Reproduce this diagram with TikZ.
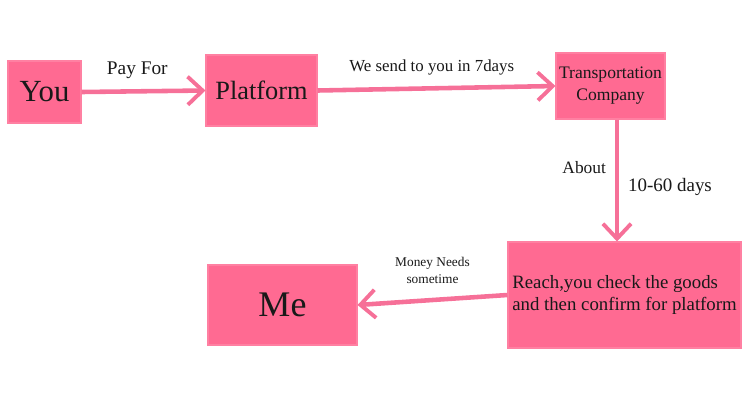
\documentclass[tikz,border=0pt]{standalone}
\usepackage{fontspec}
\setmainfont{Liberation Serif}
\usetikzlibrary{arrows.meta}

\definecolor{rosebox}{RGB}{255,106,146}
\definecolor{roseline}{RGB}{246,112,152}

\tikzset{
  box/.style={fill=rosebox,draw=rosebox!85!white,line width=0.6pt,
    inner sep=1pt,align=center,text=black!90},
  flow/.style={roseline,line width=2.6pt,
    -{Straight Barb[length=8.5pt,width=16pt,line width=2.2pt]}},
  lbl/.style={text=black!90,inner sep=2pt}
}

\begin{document}
\begin{tikzpicture}[x=0.02cm,y=-0.02cm]

\def\px{0.02cm}

\useasboundingbox (0,0) rectangle (750,400);

%====================================================
% Boxes
%====================================================
\node[box,minimum width=73*\px,minimum height=62*\px,font=\fontsize{17.5}{20}\selectfont]
  (you) at (44.5,92) {You};
\node[box,minimum width=111*\px,minimum height=71*\px,font=\fontsize{15}{18}\selectfont]
  (platform) at (261.5,90.5) {Platform};
\node[box,minimum width=109*\px,minimum height=66*\px,font=\fontsize{10}{12.5}\selectfont]
  (trans) at (610.5,86) {Transportation\\Company};
\node[box,minimum width=233*\px,minimum height=106*\px,font=\fontsize{10.7}{13}\selectfont,
  align=left] (reach) at (624.5,295)
  {Reach,you check the goods\\and then confirm for platform};
\node[box,minimum width=149*\px,minimum height=80*\px,font=\fontsize{20.5}{24}\selectfont]
  (me) at (282.5,305) {Me};

%====================================================
% Arrows
%====================================================
% You -> Platform
\draw[flow] (you.east) -- (platform.west)
  node[lbl,pos=0.45,above=4pt,font=\fontsize{11}{13}\selectfont]{Pay For};

% Platform -> Transportation
\draw[flow] (platform.east) -- (trans.west)
  node[lbl,pos=0.48,above=4pt,font=\fontsize{9.6}{11}\selectfont]{We send to you in 7days};

% Transportation -> Reach
\draw[flow] ([xshift=6.5*\px]trans.south) -- ([xshift=6.5*\px]trans.south |- reach.north)
  node[lbl,pos=0.39,left=3pt,font=\fontsize{9.9}{11}\selectfont]{About}
  node[lbl,pos=0.55,right=3pt,font=\fontsize{10.8}{12}\selectfont]{10-60 days};

% Reach -> Me
\draw[flow] (reach.west) -- (me.east)
  node[lbl,midway,above=6pt,align=center,font=\fontsize{7.6}{9.5}\selectfont]{Money Needs\\sometime};

\end{tikzpicture}
\end{document}
